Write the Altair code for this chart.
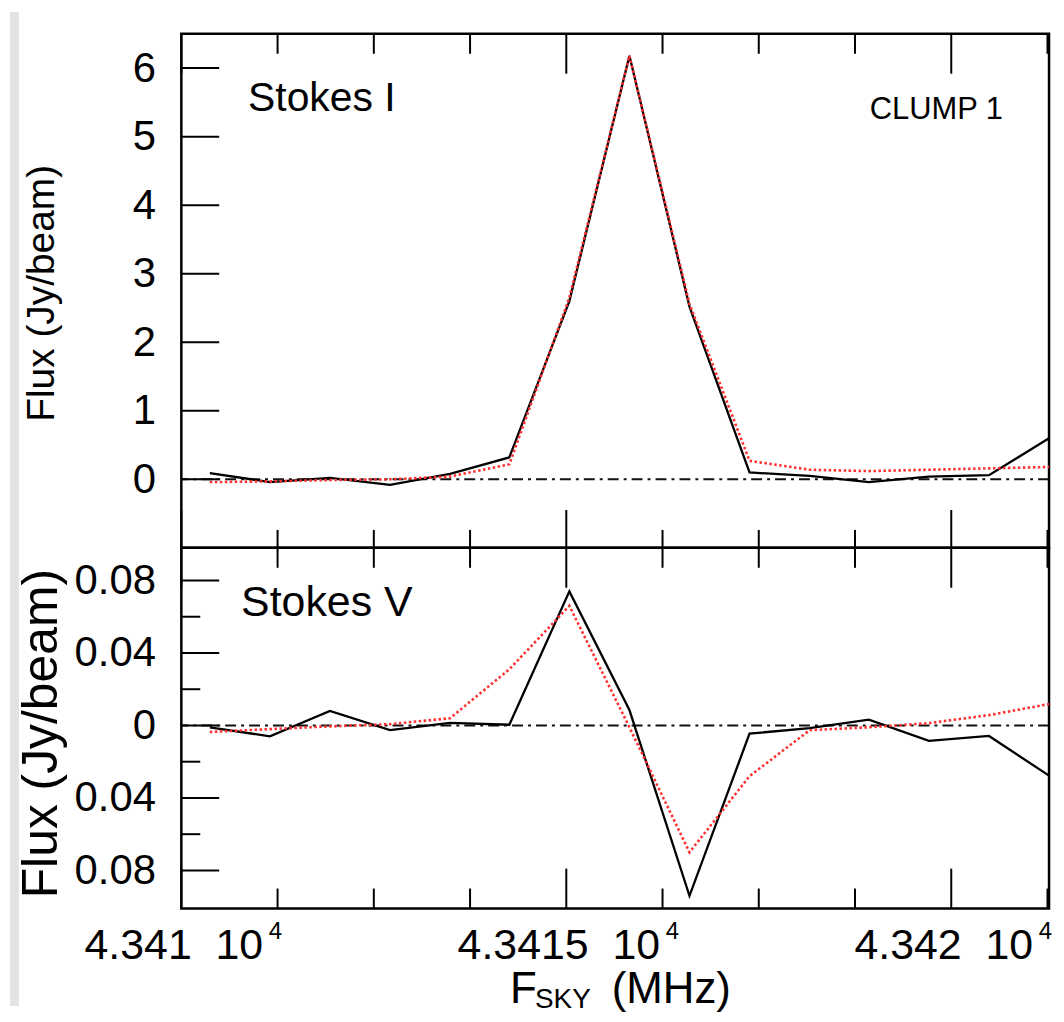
import altair as alt
import pandas as pd

# ---------------- data ----------------
chan_mhz = [43410.37, 43411.15, 43411.93, 43412.71, 43413.49, 43414.26, 43415.04,
            43415.82, 43416.60, 43417.38, 43418.16, 43418.93, 43419.71, 43420.49, 43421.27]
stokes_i_obs = [0.09, -0.04, 0.02, -0.08, 0.08, 0.32, 2.60, 6.18, 2.52, 0.10, 0.05,
                -0.04, 0.04, 0.06, 0.60]
stokes_i_fit = [-0.04, -0.03, -0.01, 0.00, 0.04, 0.22, 2.65, 6.18, 2.56, 0.27, 0.14,
                0.12, 0.14, 0.16, 0.18]
stokes_v_obs = [-0.001, -0.006, 0.008, -0.0026, 0.0014, 0.0004, 0.074, 0.0085, -0.094,
                -0.0045, -0.0015, 0.0032, -0.0085, -0.0058, -0.0277]
stokes_v_fit = [-0.0036, -0.002, -0.0005, 0.0007, 0.004, 0.031, 0.066, -0.001, -0.070,
                -0.028, -0.0026, -0.001, 0.0013, 0.0057, 0.0118]

x_major = [43410, 43415, 43420]
x_mantissa = ["4.341", "4.3415", "4.342"]
x_base = "10"
x_exponent = "4"
x_minor = [43411.25, 43412.5, 43413.75, 43416.25, 43417.5, 43418.75, 43421.25]
i_major = [0, 1, 2, 3, 4, 5, 6]
v_major = [0.08, 0.04, 0.0, -0.04, -0.08]
v_major_labels = ["0.08", "0.04", "0", "0.04", "0.08"]
v_minor = [0.06, 0.02, -0.02, -0.06]

# ---------------- layout ----------------
W, H1, H2 = 871, 516, 362
FONT = "Liberation Sans"
x_dom = [43410, 43421.27]
i_dom = [-1, 6.5]
v_dom = [-0.101, 0.098]
NBSP = "\u00a0"


def label_expr(vals, labels):
    expr = "''"
    for v, l in reversed(list(zip(vals, labels))):
        expr = f"(abs(datum.value - ({v})) < 1e-6 ? '{l}' : {expr})"
    return expr


xs = alt.Scale(domain=x_dom, nice=False, zero=False)
ys_i = alt.Scale(domain=i_dom, nice=False, zero=False)
ys_v = alt.Scale(domain=v_dom, nice=False, zero=False)

df_i = pd.DataFrame({"f": chan_mhz, "obs": stokes_i_obs, "fit": stokes_i_fit})
df_v = pd.DataFrame({"f": chan_mhz, "obs": stokes_v_obs, "fit": stokes_v_fit})
zero_df = pd.DataFrame({"y": [0.0]})


def xticks(vals, y1, y2, axis=None):
    return alt.Chart(pd.DataFrame({"v": vals})).mark_rule(color="black", strokeWidth=2).encode(
        x=alt.X("v:Q", scale=xs, axis=axis), y=alt.value(y1), y2=alt.value(y2))


def yticks(vals, scale, x2):
    return alt.Chart(pd.DataFrame({"v": vals})).mark_rule(color="black", strokeWidth=2).encode(
        y=alt.Y("v:Q", scale=scale, axis=None), x=alt.value(0), x2=alt.value(x2))


def label(text, x, y, size):
    return alt.Chart(pd.DataFrame({"t": [text]})).mark_text(
        align="left", baseline="alphabetic", font=FONT, fontSize=size, color="black"
    ).encode(text="t:N", x=alt.value(x), y=alt.value(y))


# ---------------- top panel: Stokes I ----------------
strip = alt.Chart(pd.DataFrame({"a": [0]})).mark_rect(color="#e3e3e3").encode(
    x=alt.value(-172), x2=alt.value(-163), y=alt.value(-22), y2=alt.value(976))

zero_i = alt.Chart(zero_df).mark_rule(color="#111", strokeWidth=2, strokeDash=[11, 5, 3, 5]).encode(
    y=alt.Y("y:Q", scale=ys_i, axis=None))

obs_i = alt.Chart(df_i).mark_line(color="black", strokeWidth=2.3).encode(
    x=alt.X("f:Q", scale=xs, axis=None),
    y=alt.Y("obs:Q", scale=ys_i,
            axis=alt.Axis(values=i_major, format="d", domain=False, ticks=False, tickSize=0,
                          grid=False, labelFont=FONT, labelFontSize=42, labelPadding=26,
                          labelColor="black", orient="left",
                          title="Flux (Jy/beam)", titleFont=FONT, titleFontSize=39,
                          titleFontWeight="normal", titleColor="black",
                          titleAngle=270, titleX=-140, titleY=H1 / 2 + 2,
                          titleAlign="center", titleBaseline="middle")))
fit_i = alt.Chart(df_i).mark_line(color="#ff3030", strokeWidth=2.6, strokeDash=[2.5, 2.5]).encode(
    x=alt.X("f:Q", scale=xs, axis=None), y=alt.Y("fit:Q", scale=ys_i, axis=None))

top = alt.layer(
    strip, zero_i, obs_i, fit_i,
    xticks(x_major, 0, 40), xticks(x_minor, 0, 20),
    xticks(x_major, H1, H1 - 38), xticks(x_minor, H1, H1 - 18),
    yticks(i_major, ys_i, 38),
    label("Stokes I", 67, 77, 41),
    label("CLUMP 1", 691, 85, 31),
).resolve_axis(x="independent", y="independent").properties(width=W, height=H1)

# ---------------- bottom panel: Stokes V ----------------
zero_v = alt.Chart(zero_df).mark_rule(color="#111", strokeWidth=2, strokeDash=[11, 5, 3, 5]).encode(
    y=alt.Y("y:Q", scale=ys_v, axis=None))

main_labels = [m + NBSP + NBSP + x_base for m in x_mantissa]
exp_labels = [x_exponent for _ in x_mantissa]
long_test = " || ".join(f"datum.value == {v}" for v, m in zip(x_major, x_mantissa) if len(m) > 5)

obs_v = alt.Chart(df_v).mark_line(color="black", strokeWidth=2.3).encode(
    x=alt.X("f:Q", scale=xs,
            axis=alt.Axis(values=x_major, labelExpr=label_expr(x_major, main_labels),
                          orient="bottom", title=None, domain=False, ticks=False, tickSize=0,
                          grid=False, labelFont=FONT, labelFontSize=43, labelPadding=16,
                          labelLimit=0, labelOffset=-8,
                          labelFlush=False, labelOverlap=False, labelColor="black")),
    y=alt.Y("obs:Q", scale=ys_v,
            axis=alt.Axis(values=v_major, labelExpr=label_expr(v_major, v_major_labels),
                          domain=False, ticks=False, tickSize=0, grid=False, orient="left",
                          labelFont=FONT, labelFontSize=42, labelPadding=26,
                          labelColor="black",
                          title="Flux (Jy/beam)", titleFont=FONT, titleFontSize=50,
                          titleFontWeight="normal", titleColor="black",
                          titleAngle=270, titleX=-140, titleY=186,
                          titleAlign="center", titleBaseline="middle")))
fit_v = alt.Chart(df_v).mark_line(color="#ff3030", strokeWidth=2.6, strokeDash=[2.5, 2.5]).encode(
    x=alt.X("f:Q", scale=xs, axis=None), y=alt.Y("fit:Q", scale=ys_v, axis=None))

exp_axis = alt.Axis(values=x_major, labelExpr=label_expr(x_major, exp_labels),
                    orient="bottom", title=None, domain=False, ticks=False, tickSize=0,
                    grid=False, labelFont=FONT, labelFontSize=24, labelPadding=11,
                    labelLimit=0, labelFlush=False, labelOverlap=False, labelColor="black",
                    labelOffset={"condition": {"test": long_test, "value": 106}, "value": 94})

bottom = alt.layer(
    zero_v, obs_v, fit_v,
    xticks(x_major, 0, 40), xticks(x_minor, 0, 20),
    xticks(x_major, H2, H2 - 40, axis=exp_axis), xticks(x_minor, H2, H2 - 20),
    yticks(v_major, ys_v, 38), yticks(v_minor, ys_v, 19),
    label("Stokes V", 60, 68, 43),
    label("F", 330, 457, 44),
    label("SKY", 355, 462, 28),
    label("(MHz)", 432, 457, 44),
).resolve_axis(x="independent", y="independent").properties(width=W, height=H2)

chart = alt.vconcat(top, bottom, spacing=0, bounds="flush", padding=0).properties(
    background="white"
).configure(padding=0).configure_view(stroke="black", strokeWidth=2.5)

chart.save("out.html", embed_options={"renderer": "svg", "actions": False})
